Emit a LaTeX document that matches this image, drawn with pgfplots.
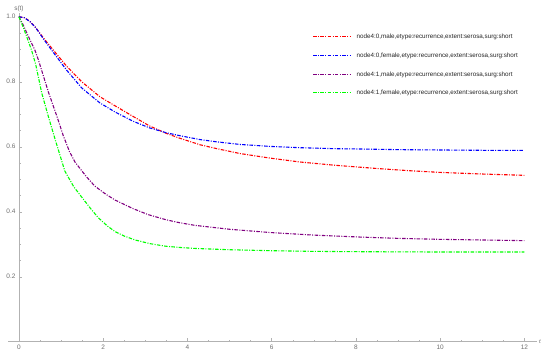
\documentclass[border=0pt]{standalone}
\usepackage{fontspec}
\setmainfont{Liberation Sans}
\usepackage{pgfplots}
\pgfplotsset{compat=1.18}
\definecolor{mred}{RGB}{255,0,0}
\definecolor{mblue}{RGB}{0,0,255}
\definecolor{mpurple}{RGB}{128,0,128}
\definecolor{mgreen}{RGB}{0,255,0}
\definecolor{axgray}{RGB}{178,178,178}
\definecolor{tkgray}{RGB}{110,110,110}
\tikzset{dd/.style={line width=1.1pt, dash pattern=on 3.5bp off 1.4bp on 1bp off 1.4bp},
  lgt/.style={anchor=west, inner sep=0pt, text=black!85, font=\fontsize{6.3}{7}\selectfont}}

\begin{document}
\begin{tikzpicture}
% fixes the page at the reference's 550 x 355 frame
\path[use as bounding box] (-8bp,-13.3bp) rectangle (542bp,341.7bp);
\begin{axis}[
    scale only axis,
    width=529bp, height=328.2bp,
    axis lines=middle,
    axis line style={-, draw=axgray, line width=0.5pt},
    xmin=-0.26, xmax=12.3,
    ymin=0, ymax=1.01,
    xtick={0,2,...,12},
    ytick={0.2,0.4,0.6,0.8,1.0},
    hide obscured x ticks=false,
    minor x tick num=3,
    minor y tick num=3,
    tick align=inside,
    major tick length=3.5bp,
    minor tick length=2bp,
    tick style={draw=axgray, line width=0.4pt},
    ticklabel style={font=\fontsize{6.5}{7}\selectfont, text=tkgray},
    /pgf/number format/assume math mode=true,
    yticklabel style={/pgf/number format/fixed, /pgf/number format/fixed zerofill, /pgf/number format/precision=1},
    xlabel={$t$},
    ylabel={s(t)},
    xlabel style={at={(axis description cs:1,0)}, anchor=west, font=\fontsize{6.5}{7}\selectfont, text=tkgray, inner sep=1.5pt},
    ylabel style={at={(axis description cs:0.0207,1)}, anchor=south, font=\fontsize{6.5}{7}\selectfont, text=tkgray, inner sep=1pt},
    clip=false,
]
\addplot[mred, dd] coordinates {
(0,1) (0.13,0.997) (0.26,0.986) (0.4,0.966) (0.58,0.935) (0.8,0.9) (1.13,0.848)
(1.49,0.8) (1.92,0.754) (2.28,0.726) (2.7,0.694) (3.1,0.664) (3.5,0.641) (3.82,0.626)
(4.3,0.606) (4.7,0.594) (5.25,0.579) (5.96,0.565) (6.67,0.553) (7.5,0.543) (8.5,0.533)
(9.3,0.526) (10,0.521) (11,0.516) (12,0.512)};
\addplot[mblue, dd] coordinates {
(0,1) (0.13,0.997) (0.26,0.985) (0.4,0.966) (0.58,0.932) (0.8,0.893) (1.13,0.836)
(1.49,0.781) (1.92,0.735) (2.28,0.707) (2.7,0.679) (3.1,0.658) (3.5,0.643) (3.82,0.634)
(4.3,0.622) (4.7,0.615) (5.25,0.607) (5.96,0.601) (6.67,0.597) (7.5,0.594) (8.1,0.593)
(9,0.591) (10,0.590) (11,0.589) (12,0.589)};
\addplot[mpurple, dd] coordinates {
(0,1) (0.1,0.975) (0.2,0.946) (0.38,0.897) (0.46,0.868) (0.7,0.768) (0.9,0.694)
(1.05,0.635) (1.2,0.585) (1.33,0.553) (1.6,0.508) (1.8,0.479) (2.05,0.455) (2.28,0.436)
(2.7,0.41) (3.07,0.391) (3.5,0.375) (3.82,0.366) (4.18,0.358) (5,0.346) (5.96,0.336)
(7,0.328) (8.1,0.322) (9,0.318) (10,0.315) (11,0.313) (12,0.311)};
\addplot[mgreen, dd] coordinates {
(0,1) (0.1,0.968) (0.2,0.933) (0.3,0.897) (0.4,0.852) (0.54,0.766) (0.7,0.692)
(0.86,0.622) (1.09,0.525) (1.3,0.477) (1.49,0.445) (1.7,0.41) (1.88,0.382) (2.1,0.356)
(2.28,0.339) (2.5,0.325) (2.76,0.313) (3.1,0.302) (3.47,0.294) (3.82,0.29) (4.18,0.287)
(5,0.283) (6,0.28) (7,0.278) (8,0.277) (10,0.276) (12,0.276)};
% legend, drawn by hand at the reference's place
\draw[mred, dd, line width=1.3pt] (axis description cs:0.5766,0.9295) -- ++(27bp,0)
  node[lgt, xshift=5bp] {node4:0,male,etype:recurrence,extent:serosa,surg:short};
\draw[mblue, dd, line width=1.3pt] (axis description cs:0.5766,0.8715) -- ++(27bp,0)
  node[lgt, xshift=5bp] {node4:0,female,etype:recurrence,extent:serosa,surg:short};
\draw[mpurple, dd, line width=1.3pt] (axis description cs:0.5766,0.8145) -- ++(27bp,0)
  node[lgt, xshift=5bp] {node4:1,male,etype:recurrence,extent:serosa,surg:short};
\draw[mgreen, dd, line width=1.3pt] (axis description cs:0.5766,0.7585) -- ++(27bp,0)
  node[lgt, xshift=5bp] {node4:1,female,etype:recurrence,extent:serosa,surg:short};
\end{axis}
\end{tikzpicture}
\end{document}
